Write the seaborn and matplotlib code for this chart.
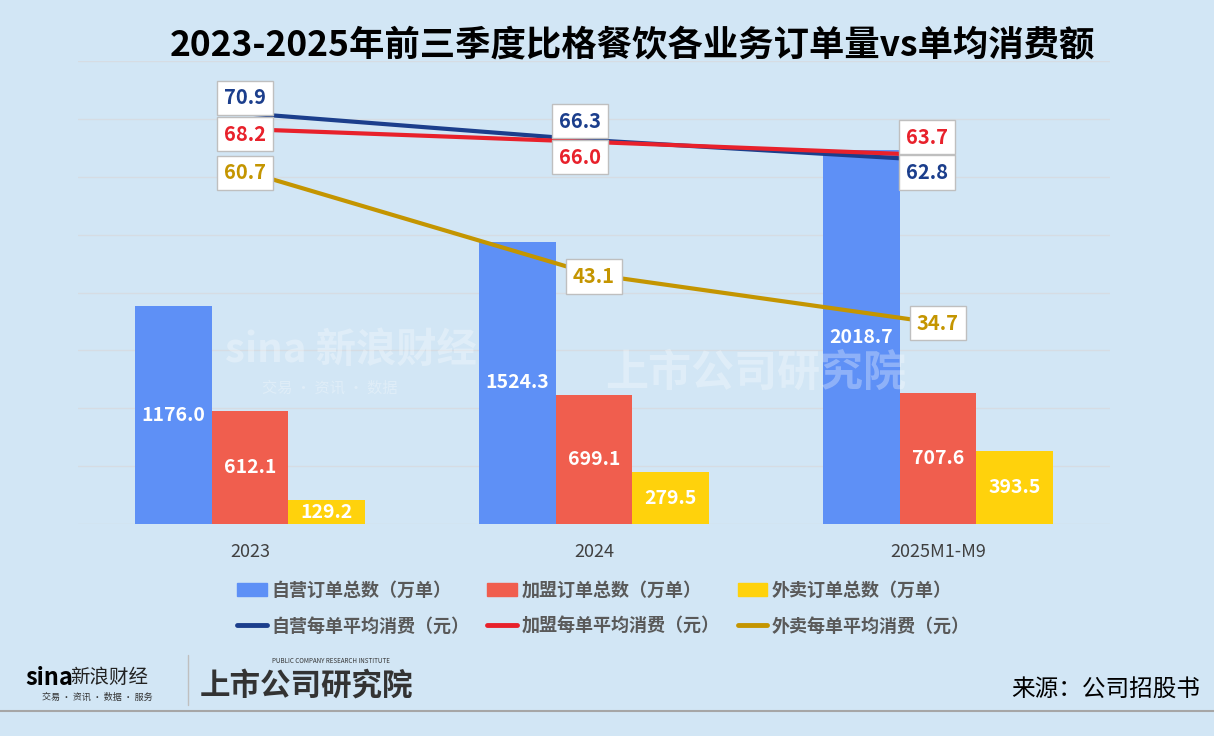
import pandas as pd
import numpy as np
import matplotlib.pyplot as plt
import seaborn as sns

# data
years = ["2023", "2024", "2025M1-M9"]
bar_names = ["自营订单总数（万单）", "加盟订单总数（万单）", "外卖订单总数（万单）"]
line_names = ["自营每单平均消费（元）", "加盟每单平均消费（元）", "外卖每单平均消费（元）"]
self_orders = [1176.0, 1524.3, 2018.7]
franchise_orders = [612.1, 699.1, 707.6]
delivery_orders = [129.2, 279.5, 393.5]
self_avg = [70.9, 66.3, 62.8]
franchise_avg = [68.2, 66.0, 63.7]
delivery_avg = [60.7, 43.1, 34.7]

bar_colors = ["#5E90F6", "#F05E4E", "#FFD20C"]
line_colors = ["#1B3E8C", "#E8212B", "#C49500"]
bg = "#D2E6F5"

sns.set_theme(style="white")
plt.rcParams['font.family'] = ['Noto Sans CJK SC', 'DejaVu Sans']

df_bar = pd.DataFrame({
    "年份": years * 3,
    "系列": [n for n in bar_names for _ in years],
    "订单": self_orders + franchise_orders + delivery_orders,
})
df_line = pd.DataFrame({
    "年份": years * 3,
    "系列": [n for n in line_names for _ in years],
    "消费": self_avg + franchise_avg + delivery_avg,
})
df_line["pos"] = df_line["年份"].map({y: i for i, y in enumerate(years)})

fig = plt.figure(figsize=(12.14, 7.36), dpi=100, facecolor=bg)
ax = fig.add_axes([78 / 1214, 1 - 524 / 736, 1032 / 1214, 463 / 736])
ax.set_facecolor("none")

sns.barplot(data=df_bar, x="年份", y="订单", hue="系列", hue_order=bar_names,
            order=years, palette=bar_colors, saturation=1, width=0.667,
            linewidth=0, ax=ax, legend=False)
for cont in ax.containers:
    ax.bar_label(cont, fmt="{:.1f}", label_type="center", color="white",
                 fontsize=14, fontweight="bold")

ax.set_ylim(0, 2500)
ax.set_yticks(np.linspace(0, 2500, 9))
ax.yaxis.grid(True, color="#D6DCE3", lw=1)
ax.set_axisbelow(True)
sns.despine(ax=ax, left=True, bottom=True)

ax2 = ax.twinx()
sns.lineplot(data=df_line, x="pos", y="消费", hue="系列", hue_order=line_names,
             palette=line_colors, linewidth=3, ax=ax2, legend=False)
ax2.set_ylim(0, 80)
ax2.set_yticks([])
ax2.set_ylabel("")
sns.despine(ax=ax2, left=True, bottom=True, right=True)

# label boxes (pixel offsets from each point)
offsets = [
    [(-5, 16), (-14, 19), (-11, -12)],
    [(-5, -5), (-14, -15), (-11, 18)],
    [(-5, 0), (0, -2), (0, 0)],
]
for s, name in enumerate(line_names):
    sub = df_line[df_line["系列"] == name]
    for i, (p, v) in enumerate(zip(sub["pos"], sub["消费"])):
        ax2.annotate(f"{v:.1f}", (p, v), xytext=offsets[s][i], textcoords="offset pixels",
                     ha="center", va="center", fontsize=14.5, fontweight="bold",
                     color=line_colors[s], zorder=5,
                     bbox=dict(boxstyle="square,pad=0.33", fc="white", ec="#BFBFBF", lw=1))

ax.set_xlim(-0.5, 2.5)
ax.set_xticks(range(len(years)))
ax.set_xticklabels(years, fontsize=13, color="#404040")
ax.tick_params(axis="x", length=0, pad=14)
ax.tick_params(axis="y", which="both", left=False, right=False,
               labelleft=False, labelright=False)
ax.set_xlabel("")
ax.set_ylabel("")

# legend: bars on first row, lines on second
bh = [plt.Rectangle((0, 0), 1, 1, color=c) for c in bar_colors]
lh = [plt.Line2D([], [], color=c, lw=3.5, solid_capstyle="round") for c in line_colors]
handles, labels = [], []
for k in range(3):
    handles += [bh[k], lh[k]]
    labels += [bar_names[k], line_names[k]]
fig.legend(handles, labels, ncol=3, loc="center", bbox_to_anchor=(0.497, 1 - 608 / 736),
           frameon=False, handlelength=1.65, handleheight=0.75, handletextpad=0.25,
           columnspacing=1.0, labelspacing=0.95,
           prop={"size": 13, "weight": "bold"}, labelcolor="#595959")

fig.text(0.521, 1 - 45 / 736, "2023-2025年前三季度比格餐饮各业务订单量vs单均消费额",
         ha="center", va="center", fontsize=25.5, fontweight="bold", color="black")

# watermark
fig.text(225 / 1214, 1 - 350 / 736, "sina 新浪财经", fontsize=29, fontweight="bold",
         color="white", alpha=0.3, va="center", style="italic", zorder=10)
fig.text(262 / 1214, 1 - 388 / 736, "交易 · 资讯 · 数据", fontsize=11,
         color="white", alpha=0.3, va="center", zorder=10)
fig.text(605 / 1214, 1 - 373 / 736, "上市公司研究院", fontsize=31, fontweight="bold",
         color="white", alpha=0.3, va="center", zorder=10)

# footer
fig.add_artist(plt.Line2D([0, 1], [1 - 711 / 736] * 2, color="#A6A6A6", lw=1.5))
fig.add_artist(plt.Line2D([188 / 1214] * 2, [1 - 705 / 736, 1 - 655 / 736], color="#BFBFBF", lw=1))
fig.text(25 / 1214, 1 - 678 / 736, "sina", fontsize=17, fontweight="bold", style="italic",
         color="black", va="center")
fig.text(70 / 1214, 1 - 677 / 736, "新浪财经", fontsize=14, color="#222222", va="center")
fig.text(42 / 1214, 1 - 697 / 736, "交易 · 资讯 · 数据 · 服务", fontsize=6.5, color="#333333", va="center")
fig.text(272 / 1214, 1 - 661 / 736, "PUBLIC COMPANY RESEARCH INSTITUTE", fontsize=4.5,
         color="#333333", va="center")
fig.text(200 / 1214, 1 - 686 / 736, "上市公司研究院", fontsize=22, fontweight="bold",
         color="#333333", va="center")
fig.text(1200 / 1214, 1 - 690 / 736, "来源：公司招股书", fontsize=17, color="black",
         ha="right", va="center")

fig.savefig("out.png", dpi=100, facecolor=bg)
